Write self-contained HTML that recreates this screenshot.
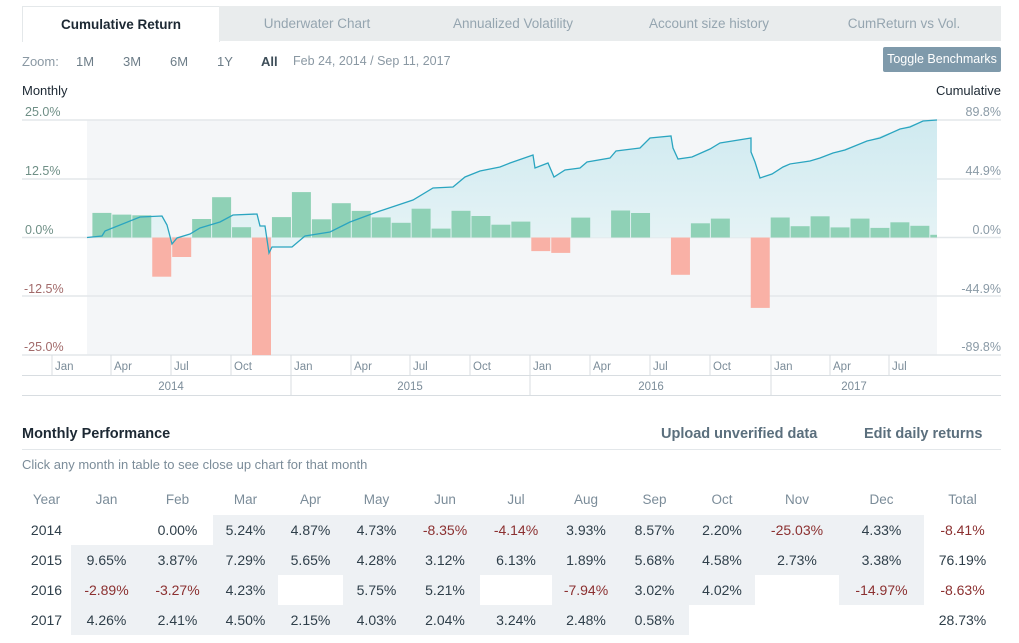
<!DOCTYPE html>
<html><head><meta charset="utf-8"><style>
body{margin:0;width:1019px;height:643px;background:#fff;font-family:"Liberation Sans",sans-serif;position:relative;overflow:hidden;color:#2f3f4a}
.a{position:absolute;white-space:nowrap}
.tab{position:absolute;top:6px;height:35px;background:#e9eced;color:#95a5b0;font-size:13.5px;line-height:36px;text-align:center}
.t td{height:30px;padding:0;text-align:center;font-size:14px;color:#2f3f4a}
.t th{font-weight:normal;color:#7b8c99;font-size:13.5px;height:30px}
.s{background:#eef1f4}
.n{color:#8b3030!important}
</style></head><body>
<div class="tab" style="left:22px;width:196px;background:#fff;border:1px solid #e4e8ea;border-bottom:none;color:#1c2833;font-weight:bold;height:35px">Cumulative Return</div>
<div class="tab" style="left:219px;width:196px">Underwater Chart</div>
<div class="tab" style="left:415px;width:196px">Annualized Volatility</div>
<div class="tab" style="left:611px;width:196px">Account size history</div>
<div class="tab" style="left:807px;width:194px">CumReturn vs Vol.</div>

<div class="a" style="left:22px;top:54px;font-size:13px;color:#8a98a3">Zoom:</div>
<div class="a" style="left:76px;top:54px;font-size:13px;color:#6d7d88">1M</div>
<div class="a" style="left:123px;top:54px;font-size:13px;color:#6d7d88">3M</div>
<div class="a" style="left:170px;top:54px;font-size:13px;color:#6d7d88">6M</div>
<div class="a" style="left:217px;top:54px;font-size:13px;color:#6d7d88">1Y</div>
<div class="a" style="left:261px;top:54px;font-size:13px;color:#3d4d58;font-weight:bold">All</div>
<div class="a" style="left:293px;top:54px;font-size:12.5px;color:#8a98a3">Feb 24, 2014 / Sep 11, 2017</div>
<div class="a" style="left:883px;top:47px;width:118px;height:25px;background:#7f9aab;border-radius:2px;color:#fff;font-size:12.5px;line-height:25px;text-align:center">Toggle Benchmarks</div>
<div class="a" style="left:22px;top:83px;font-size:13px;color:#1c2833">Monthly</div>
<div class="a" style="right:18px;top:83px;font-size:13px;color:#1c2833">Cumulative</div>

<svg class="a" style="left:0;top:0" width="1019" height="410" font-family="Liberation Sans" font-size="12.5">
<defs><linearGradient id="g" x1="0" y1="0" x2="0" y2="1"><stop offset="0" stop-color="#cfeaf0"/><stop offset="1" stop-color="#e8f4f6"/></linearGradient></defs>
<rect x="87" y="120" width="850" height="235" fill="#f4f6f8"/>
<g stroke="#e3e7ea" stroke-width="1.5">
<line x1="22" x2="1001" y1="120" y2="120"/><line x1="22" x2="1001" y1="179" y2="179"/><line x1="22" x2="1001" y1="237.5" y2="237.5"/><line x1="22" x2="1001" y1="296" y2="296"/><line x1="22" x2="1001" y1="355" y2="355"/>
</g>
<polygon fill="url(#g)" points="87,237.5 102,236 105,231 110,229 140,217 162,216 167,225 172,244 177,238 190,234 200,228 220,222 233,215 257,214 260,226 265,226 269,253 272,247 292,247 305,236 330,232 350,222 377,212 413,200 433,188 453,187 465,177 480,171 500,167 510,163 533,155 535,168 548,163 554,177 565,170 580,168 587,162 610,158 616,151 640,148 650,138 671,136 673,148 678,159 692,157 710,149 720,143 751,138 751,152 755,162 760,178 772,174 783,167 810,161 833,153 867,141 900,129 923,121 937,120 937,237.5"/>
<g fill="#8fd1b6">
<rect x="92.4" y="212.9" width="19" height="24.6"/><rect x="112.35" y="214.6" width="19" height="22.9"/><rect x="132.3" y="215.3" width="19" height="22.2"/>
<rect x="192.15" y="219" width="19" height="18.5"/><rect x="212.1" y="197.2" width="19" height="40.3"/><rect x="232.05" y="227.2" width="19" height="10.3"/><rect x="271.95" y="217.1" width="19" height="20.4"/>
<rect x="291.9" y="192.1" width="19" height="45.4"/><rect x="311.85" y="219.3" width="19" height="18.2"/><rect x="331.8" y="203.2" width="19" height="34.3"/><rect x="351.75" y="210.9" width="19" height="26.6"/><rect x="371.7" y="217.4" width="19" height="20.1"/><rect x="391.65" y="222.8" width="19" height="14.7"/><rect x="411.6" y="208.7" width="19" height="28.8"/><rect x="431.55" y="228.6" width="19" height="8.9"/><rect x="451.5" y="210.8" width="19" height="26.7"/><rect x="471.45" y="216" width="19" height="21.5"/><rect x="491.4" y="224.7" width="19" height="12.8"/><rect x="511.35" y="221.6" width="19" height="15.9"/>
<rect x="571.2" y="217.6" width="19" height="19.9"/><rect x="611.1" y="210.5" width="19" height="27"/><rect x="631.05" y="213" width="19" height="24.5"/><rect x="690.9" y="223.3" width="19" height="14.2"/><rect x="710.85" y="218.6" width="19" height="18.9"/>
<rect x="770.7" y="217.5" width="19" height="20"/><rect x="790.65" y="226.2" width="19" height="11.3"/><rect x="810.6" y="216.3" width="19" height="21.2"/><rect x="830.55" y="227.4" width="19" height="10.1"/><rect x="850.5" y="218.6" width="19" height="18.9"/><rect x="870.45" y="227.9" width="19" height="9.6"/><rect x="890.4" y="222.3" width="19" height="15.2"/><rect x="910.35" y="225.8" width="19" height="11.7"/><rect x="930.3" y="234.8" width="6.7" height="2.7"/>
</g>
<g fill="#f9b1a6">
<rect x="152.25" y="237.5" width="19" height="39.2"/><rect x="172.2" y="237.5" width="19" height="19.5"/><rect x="252" y="237.5" width="19" height="117.6"/>
<rect x="531.3" y="237.5" width="19" height="13.6"/><rect x="551.25" y="237.5" width="19" height="15.4"/><rect x="670.95" y="237.5" width="19" height="37.3"/><rect x="750.75" y="237.5" width="19" height="70.4"/>
</g>
<polyline fill="none" stroke="#2aa5c0" stroke-width="1.3" points="87,237.5 102,236 105,231 110,229 140,217 162,216 167,225 172,244 177,238 190,234 200,228 220,222 233,215 257,214 260,226 265,226 269,253 272,247 292,247 305,236 330,232 350,222 377,212 413,200 433,188 453,187 465,177 480,171 500,167 510,163 533,155 535,168 548,163 554,177 565,170 580,168 587,162 610,158 616,151 640,148 650,138 671,136 673,148 678,159 692,157 710,149 720,143 751,138 751,152 755,162 760,178 772,174 783,167 790,164 810,161 820,158 833,153 845,150 867,141 880,138 900,129 910,127 923,121 937,120"/>
<g fill="#6f8f86"><text x="25" y="116">25.0%</text><text x="25" y="175">12.5%</text><text x="25" y="234">0.0%</text></g>
<g fill="#a26a6a"><text x="24" y="293">-12.5%</text><text x="24" y="351">-25.0%</text></g>
<g fill="#8a9aa6" text-anchor="end"><text x="1001" y="116">89.8%</text><text x="1001" y="175">44.9%</text><text x="1001" y="234">0.0%</text><text x="1001" y="293">-44.9%</text><text x="1001" y="351">-89.8%</text></g>
<g stroke="#d8dde1" stroke-width="1">
<line x1="22" x2="1001" y1="375.5" y2="375.5"/><line x1="22" x2="1001" y1="395.5" y2="395.5"/>
<line x1="52" x2="52" y1="355" y2="375"/><line x1="111" x2="111" y1="355" y2="375"/><line x1="171" x2="171" y1="355" y2="375"/><line x1="231" x2="231" y1="355" y2="375"/><line x1="291" x2="291" y1="355" y2="395"/><line x1="351" x2="351" y1="355" y2="375"/><line x1="410" x2="410" y1="355" y2="375"/><line x1="470" x2="470" y1="355" y2="375"/><line x1="530" x2="530" y1="355" y2="395"/><line x1="590" x2="590" y1="355" y2="375"/><line x1="650" x2="650" y1="355" y2="375"/><line x1="710" x2="710" y1="355" y2="375"/><line x1="771" x2="771" y1="355" y2="395"/><line x1="830" x2="830" y1="355" y2="375"/><line x1="889" x2="889" y1="355" y2="375"/>
</g>
<g fill="#7b8c99" font-size="11.5"><text x="55" y="370">Jan</text><text x="114" y="370">Apr</text><text x="174" y="370">Jul</text><text x="234" y="370">Oct</text><text x="294" y="370">Jan</text><text x="354" y="370">Apr</text><text x="413" y="370">Jul</text><text x="473" y="370">Oct</text><text x="533" y="370">Jan</text><text x="593" y="370">Apr</text><text x="653" y="370">Jul</text><text x="713" y="370">Oct</text><text x="774" y="370">Jan</text><text x="833" y="370">Apr</text><text x="892" y="370">Jul</text>
<text x="171" y="390" text-anchor="middle">2014</text><text x="410" y="390" text-anchor="middle">2015</text><text x="651" y="390" text-anchor="middle">2016</text><text x="854" y="390" text-anchor="middle">2017</text></g>
</svg>

<div class="a" style="left:22px;top:426px;font-size:14.5px;font-weight:bold;color:#1c2833">Monthly Performance</div>
<div class="a" style="left:661px;top:426px;font-size:14.5px;font-weight:bold;color:#5b6f7d">Upload unverified data</div>
<div class="a" style="left:864px;top:426px;font-size:14.5px;font-weight:bold;color:#5b6f7d">Edit daily returns</div>
<div class="a" style="left:22px;top:449px;width:979px;height:1px;background:#e3e7ea"></div>
<div class="a" style="left:22px;top:457px;font-size:13px;color:#7b8c99">Click any month in table to see close up chart for that month</div>

<table class="t a" style="left:22px;top:483px;border-collapse:collapse;table-layout:fixed;width:979px">
<colgroup><col style="width:49px"><col style="width:71px"><col style="width:71px"><col style="width:65px"><col style="width:65px"><col style="width:67px"><col style="width:70px"><col style="width:72px"><col style="width:68px"><col style="width:69px"><col style="width:66px"><col style="width:84px"><col style="width:85px"><col style="width:77px"></colgroup>
<tr><th>Year</th><th>Jan</th><th>Feb</th><th>Mar</th><th>Apr</th><th>May</th><th>Jun</th><th>Jul</th><th>Aug</th><th>Sep</th><th>Oct</th><th>Nov</th><th>Dec</th><th>Total</th></tr>
<tr><td>2014</td><td></td><td>0.00%</td><td class="s">5.24%</td><td class="s">4.87%</td><td class="s">4.73%</td><td class="s n">-8.35%</td><td class="s n">-4.14%</td><td class="s">3.93%</td><td class="s">8.57%</td><td class="s">2.20%</td><td class="s n">-25.03%</td><td class="s">4.33%</td><td class="n">-8.41%</td></tr>
<tr><td>2015</td><td class="s">9.65%</td><td class="s">3.87%</td><td class="s">7.29%</td><td class="s">5.65%</td><td class="s">4.28%</td><td class="s">3.12%</td><td class="s">6.13%</td><td class="s">1.89%</td><td class="s">5.68%</td><td class="s">4.58%</td><td class="s">2.73%</td><td class="s">3.38%</td><td>76.19%</td></tr>
<tr><td>2016</td><td class="s n">-2.89%</td><td class="s n">-3.27%</td><td class="s">4.23%</td><td></td><td class="s">5.75%</td><td class="s">5.21%</td><td></td><td class="s n">-7.94%</td><td class="s">3.02%</td><td class="s">4.02%</td><td></td><td class="s n">-14.97%</td><td class="n">-8.63%</td></tr>
<tr><td>2017</td><td class="s">4.26%</td><td class="s">2.41%</td><td class="s">4.50%</td><td class="s">2.15%</td><td class="s">4.03%</td><td class="s">2.04%</td><td class="s">3.24%</td><td class="s">2.48%</td><td class="s">0.58%</td><td></td><td></td><td></td><td>28.73%</td></tr>
</table>
</body></html>
